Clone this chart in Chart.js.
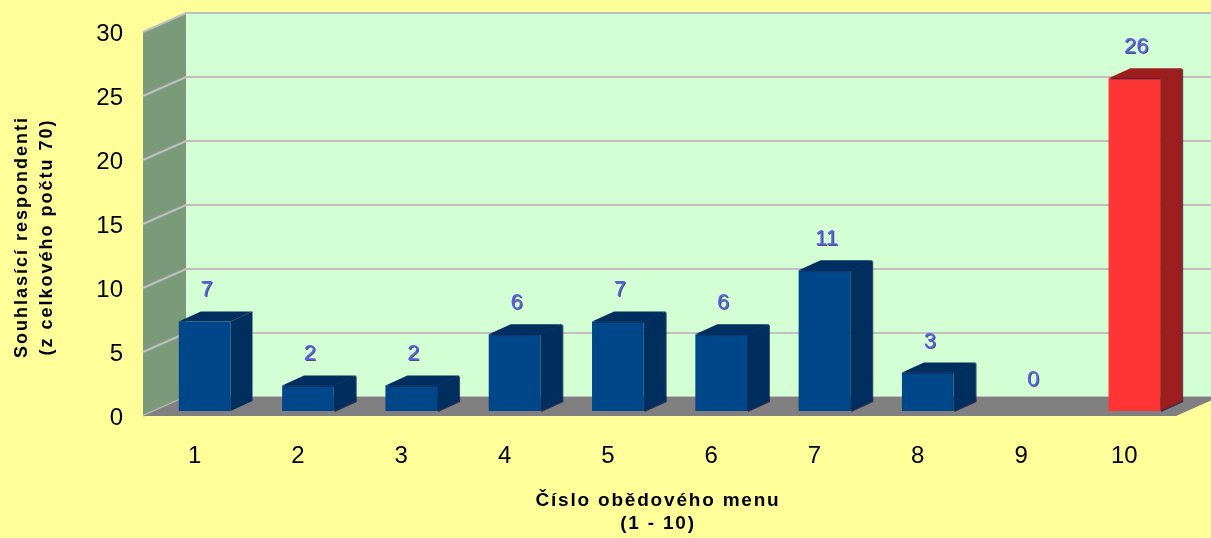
<!DOCTYPE html>
<html>
<head>
<meta charset="utf-8">
<script src="https://cdn.jsdelivr.net/npm/chart.js@4/dist/chart.umd.min.js"></script>
<style>
  html, body { margin: 0; padding: 0; background: #FFFF99; }
  #wrap { width: 1211px; height: 538px; }
</style>
</head>
<body>
<div id="wrap"><canvas id="c" width="1211" height="538"></canvas></div>
<script>
// ---- data ----
const categories = ['1', '2', '3', '4', '5', '6', '7', '8', '9', '10'];
const values = [7, 2, 2, 6, 7, 6, 11, 3, 0, 26];
const yMin = 0;
const yMax = 30;
const yStep = 5;
const yTitleLines = ['Souhlasící respondenti', '(z celkového počtu 70)'];
const xTitleLines = ['Číslo obědového menu', '(1 - 10)'];
const highlighted = [false, false, false, false, false, false, false, false, false, true];

// ---- styles ----
const FONT = '"Liberation Sans", Arial, sans-serif';
const BG = '#FFFF99';
const BACK_WALL = '#D4FFD4';
const SIDE_WALL = '#7A9A7A';
const FLOOR = '#808080';
const GRID = '#C0C0C0';
const BLUE_FRONT = '#00478A';
const BLUE_DARK = '#002E5E';
const RED_FRONT = '#FF3535';
const RED_DARK = '#9C1E1E';
// depth geometry (relative to the bar plane given by the chart scales)
const FRONT = { dx: -10, dy: 5 };   // front plane of walls/floor
const BACK = { dx: 33, dy: -14 };   // back wall plane
const BAR_DEPTH = { dx: 22, dy: -10 };

const frontColors = highlighted.map(h => h ? RED_FRONT : BLUE_FRONT);
const darkColors = highlighted.map(h => h ? RED_DARK : BLUE_DARK);

function poly(ctx, pts, color) {
  ctx.beginPath();
  ctx.moveTo(pts[0][0], pts[0][1]);
  for (let i = 1; i < pts.length; i++) ctx.lineTo(pts[i][0], pts[i][1]);
  ctx.closePath();
  ctx.fillStyle = color;
  ctx.fill();
}

const scene3d = {
  id: 'scene3d',
  beforeDraw(chart) {
    const ctx = chart.ctx;
    const { left, right } = chart.chartArea;
    const ys = chart.scales.y;
    const W = chart.width, H = chart.height;
    ctx.save();
    ctx.fillStyle = BG;
    ctx.fillRect(0, 0, W, H);

    const fy = v => ys.getPixelForValue(v) + FRONT.dy;
    const by = v => ys.getPixelForValue(v) + BACK.dy;
    const fxL = left + FRONT.dx, bxL = left + BACK.dx;
    const fxR = right + FRONT.dx, bxR = right + BACK.dx;

    // back wall
    poly(ctx, [[bxL, by(yMax)], [W + 50, by(yMax)], [W + 50, by(yMin)], [bxL, by(yMin)]], BACK_WALL);
    // side wall
    poly(ctx, [[fxL, fy(yMax)], [bxL, by(yMax)], [bxL, by(yMin)], [fxL, fy(yMin)]], SIDE_WALL);
    // grid lines
    ctx.lineWidth = 2;
    ctx.strokeStyle = GRID;
    for (let v = yMin; v <= yMax; v += yStep) {
      ctx.beginPath();
      ctx.moveTo(fxL, fy(v));
      ctx.lineTo(bxL, by(v));
      ctx.lineTo(W + 50, by(v));
      ctx.stroke();
    }
    // floor
    poly(ctx, [[fxL, fy(yMin)], [bxL, by(yMin)], [bxR, by(yMin)], [fxR, fy(yMin)]], FLOOR);
    poly(ctx, [[bxL, by(yMin)], [W + 50, by(yMin)], [W + 50, by(yMin) + 1], [bxL, by(yMin) + 1]], FLOOR);

    // axis titles
    ctx.fillStyle = '#000000';
    ctx.font = 'bold 19px ' + FONT;
    ctx.textAlign = 'center';
    ctx.textBaseline = 'middle';
    try { ctx.letterSpacing = '1.8px'; } catch (e) {}
    const xc = 658;
    ctx.fillText(xTitleLines[0], xc, 501);
    ctx.fillText(xTitleLines[1], xc, 524);
    ctx.font = 'bold 18px ' + FONT;
    try { ctx.letterSpacing = '2px'; } catch (e) {}
    ctx.save();
    ctx.translate(22, 237);
    ctx.rotate(-Math.PI / 2);
    ctx.fillText(yTitleLines[0], 0, 0);
    ctx.fillText(yTitleLines[1], 0, 25);
    ctx.restore();
    try { ctx.letterSpacing = '0px'; } catch (e) {}
    ctx.restore();
  },
  afterDatasetsDraw(chart) {
    const ctx = chart.ctx;
    const meta = chart.getDatasetMeta(0);
    ctx.save();
    meta.data.forEach((bar, i) => {
      const v = values[i];
      const x1 = bar.x - bar.width / 2, x2 = bar.x + bar.width / 2;
      const top = bar.y, base = bar.base;
      const dx = BAR_DEPTH.dx, dy = BAR_DEPTH.dy;
      if (v > 0) {
        poly(ctx, [[x1, top], [x1 + dx, top + dy], [x2 + dx, top + dy], [x2, top]], darkColors[i]);
        poly(ctx, [[x2, top], [x2 + dx, top + dy], [x2 + dx, base + dy], [x2, base]], darkColors[i]);
      }
      // value label
      ctx.font = '22px ' + FONT;
      ctx.textAlign = 'center';
      ctx.textBaseline = 'middle';
      ctx.shadowColor = 'rgba(10,10,60,0.7)';
      ctx.shadowOffsetX = 1;
      ctx.shadowOffsetY = 1;
      ctx.shadowBlur = 0.5;
      ctx.fillStyle = '#5C5CF2';
      ctx.fillText(String(v), bar.x + 2, top - 31);
    });
    ctx.restore();
  }
};

new Chart(document.getElementById('c'), {
  type: 'bar',
  data: {
    labels: categories,
    datasets: [{
      data: values,
      backgroundColor: frontColors,
      borderWidth: 0,
      categoryPercentage: 1.0,
      barPercentage: 0.5
    }]
  },
  options: {
    responsive: false,
    animation: false,
    events: [],
    layout: { padding: { top: 27, right: 25, left: 0, bottom: 0 } },
    plugins: { legend: { display: false }, tooltip: { enabled: false } },
    scales: {
      x: {
        grid: { display: false, drawTicks: false },
        border: { display: false },
        ticks: { color: '#000', font: { family: FONT, size: 24 }, padding: 31, labelOffset: -10, maxRotation: 0 },
        afterFit(axis) { axis.height = 127; axis.paddingLeft = 0; axis.paddingRight = 0; }
      },
      y: {
        min: yMin, max: yMax,
        grid: { display: false, drawTicks: false },
        border: { display: false },
        ticks: { stepSize: yStep, color: '#000', font: { family: FONT, size: 24 }, padding: 30, labelOffset: 7 },
        afterFit(axis) { axis.width = 153; axis.paddingTop = 0; axis.paddingBottom = 0; }
      }
    }
  },
  plugins: [scene3d]
});
</script>
</body>
</html>
